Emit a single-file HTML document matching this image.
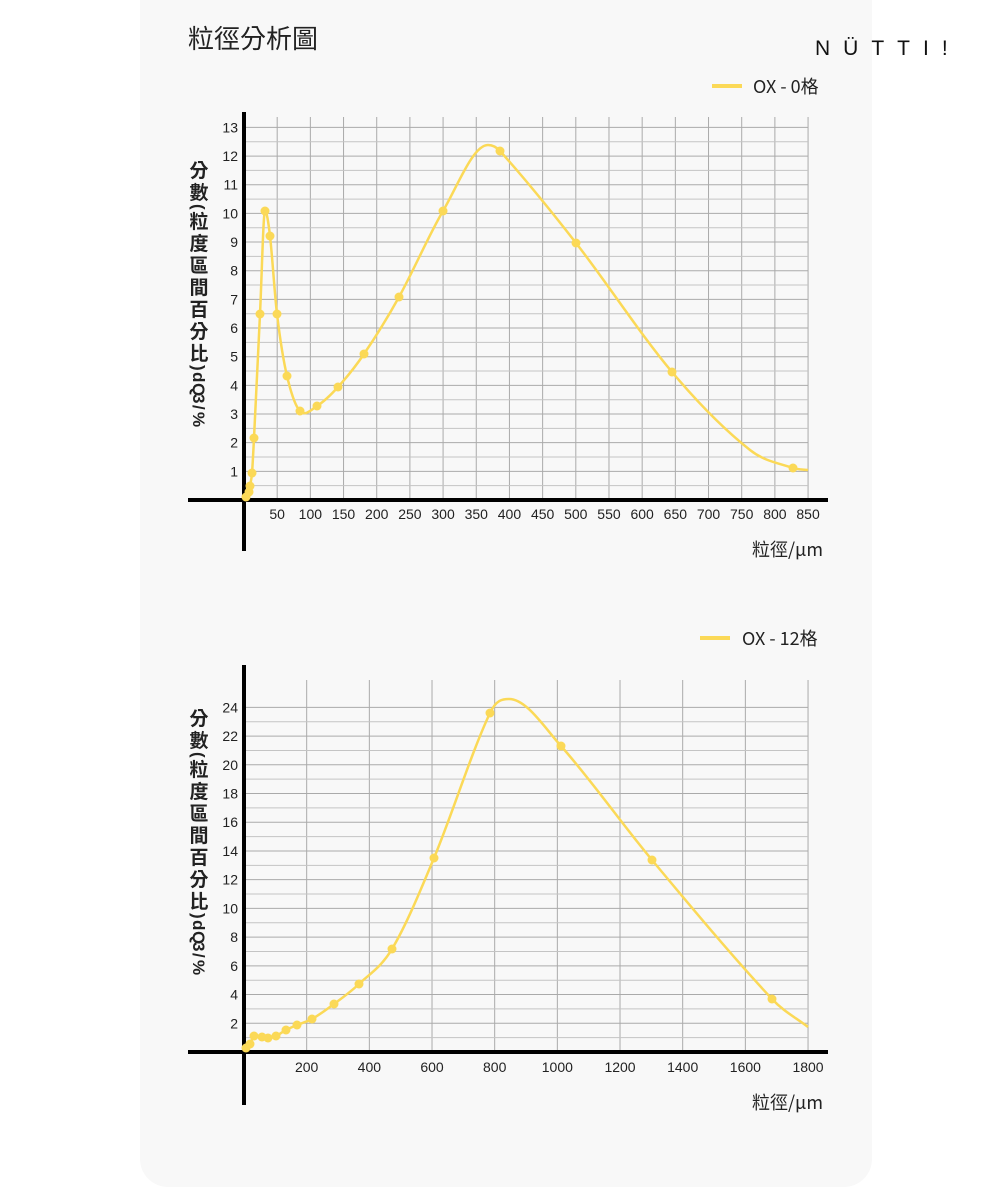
<!DOCTYPE html>
<html><head><meta charset="utf-8">
<style>
html,body{margin:0;padding:0;background:#fff;}
body{width:1000px;height:1187px;position:relative;overflow:hidden;font-family:"Liberation Sans","Noto Sans CJK TC",sans-serif;}
#card{position:absolute;left:140px;top:0;width:732px;height:1187px;background:#f8f8f8;border-radius:0 0 28px 28px;}
svg{position:absolute;left:0;top:0;}
</style></head><body>
<div id="card"></div>
<svg id="s" width="1000" height="1187" xmlns="http://www.w3.org/2000/svg" font-family="Liberation Sans, Noto Sans CJK TC, sans-serif">
<text x="188" y="48" font-size="26" fill="#222" font-family="Noto Sans CJK TC, sans-serif">粒徑分析圖</text>
<text x="815" y="55" font-size="21" fill="#111" letter-spacing="13" font-family="Liberation Sans, sans-serif">NÜTTI!</text>
<line x1="712" y1="86" x2="742" y2="86" stroke="#fbd957" stroke-width="4"/>
<text x="753" y="93" font-size="18" fill="#222" font-family="Noto Sans CJK TC, sans-serif">OX - 0格</text>
<line x1="700" y1="638" x2="730" y2="638" stroke="#fbd957" stroke-width="4"/>
<text x="742" y="645" font-size="18" fill="#222" font-family="Noto Sans CJK TC, sans-serif">OX - 12格</text>
<g id="g"></g>
<text x="752" y="556" font-size="18" fill="#222" font-family="Noto Sans CJK TC, sans-serif">粒徑/μm</text>
<text x="752" y="1109" font-size="18" fill="#222" font-family="Noto Sans CJK TC, sans-serif">粒徑/μm</text>
</svg>
<script>
var g=document.getElementById('g'),h='';
function L(x1,y1,x2,y2,c,w){h+='<line x1="'+x1+'" y1="'+y1+'" x2="'+x2+'" y2="'+y2+'" stroke="'+c+'" stroke-width="'+w+'"/>';}
function T(x,y,t,a,s){h+='<text x="'+x+'" y="'+y+'" font-size="'+(s||14)+'" fill="#222" text-anchor="'+(a||'middle')+'">'+t+'</text>';}
function curve(p){
  var n=p.length,m=[];
  for(var i=0;i<n;i++){
    if(p[i][2]==='f'){m.push(0);continue;}
    if(i==0)m.push((p[1][1]-p[0][1])/(p[1][0]-p[0][0]));
    else if(i==n-1)m.push((p[i][1]-p[i-1][1])/(p[i][0]-p[i-1][0]));
    else m.push((p[i+1][1]-p[i-1][1])/(p[i+1][0]-p[i-1][0]));
  }
  var d='M'+p[0][0]+','+p[0][1];
  for(var i=0;i<n-1;i++){var dx=(p[i+1][0]-p[i][0])/3;
    d+=' C'+(p[i][0]+dx)+','+(p[i][1]+m[i]*dx)+' '+(p[i+1][0]-dx)+','+(p[i+1][1]-m[i+1]*dx)+' '+p[i+1][0]+','+p[i+1][1];}
  return d;}
// top chart
for(var k=1;k<=17;k++){var x=244+33.18*k;L(x,117,x,500,'#aaa',1);T(x,519,k*50);}
for(var j=1;j<=26;j++){var y=500-14.33*j;L(244,y,808,y,j%2?'#c4c4c4':'#aaa',1);}
for(var j=1;j<=13;j++){T(238,500-28.66*j+5,j,'end');}
L(188,500,828,500,'#000',4);L(244,112,244,551,'#000',4);
var p1=[[244,499],[246,497],[249,492],[250,486],[252,473],[254,438],[260,314],[265,211,'f'],[270,236],[277,314],[287,376],[300,411],[317,406],[338,387],[364,354],[399,297],[443,211],[488,145,'f'],[500,151],[576,243],[672,372],[750,450],[793,468],[808,470]];
h+='<path d="'+curve(p1)+'" fill="none" stroke="#fbd957" stroke-width="2.5"/>';
p1.forEach(function(q,i){if(i>0&&q[0]!=488&&q[0]!=750&&q[0]!=808)h+='<circle cx="'+q[0]+'" cy="'+q[1]+'" r="4.5" fill="#fbd957"/>';});
// bottom chart
for(var k=1;k<=9;k++){var x=244+62.67*k;L(x,680,x,1052,'#aaa',1);T(x,1072,k*200);}
for(var j=1;j<=24;j++){var y=1052-14.36*j;L(244,y,808,y,j%2?'#c4c4c4':'#aaa',1);}
for(var j=1;j<=12;j++){T(238,1052-28.72*j+5,j*2,'end');}
L(188,1052,828,1052,'#000',4);L(244,665,244,1105,'#000',4);
var p2=[[244,1050],[246,1048],[250,1044],[254,1036],[262,1037],[268,1038],[276,1036],[286,1030],[297,1025],[312,1019],[334,1004],[359,984],[392,949],[434,858],[490,713],[509,699,'f'],[561,746],[652,860],[772,999],[808,1027]];
h+='<path d="'+curve(p2)+'" fill="none" stroke="#fbd957" stroke-width="2.5"/>';
p2.forEach(function(q,i){if(i>0&&q[0]!=509&&q[0]!=808)h+='<circle cx="'+q[0]+'" cy="'+q[1]+'" r="4.5" fill="#fbd957"/>';});
// y labels vertical
var yl='分數(粒度區間百分比)dQ3/%';
function V(y0){var y=y0;for(var i=0;i<yl.length;i++){var c=yl[i];var cj=/[\u4e00-\u9fff]/.test(c);
 if(cj){h+='<text x="199" y="'+(y+17)+'" font-size="19" font-weight="bold" fill="#222" text-anchor="middle" font-family="Noto Sans CJK TC, sans-serif">'+c+'</text>';y+=22;}
 else{var w=(c=='('||c==')'||c=='/')?7:(c=='%'?15:11);h+='<text x="0" y="0" font-size="17" font-weight="bold" fill="#222" transform="translate(193 '+y+') rotate(90)">'+c+'</text>';y+=w;}}}
V(160);V(708);
g.innerHTML=h;
</script>
</body></html>
